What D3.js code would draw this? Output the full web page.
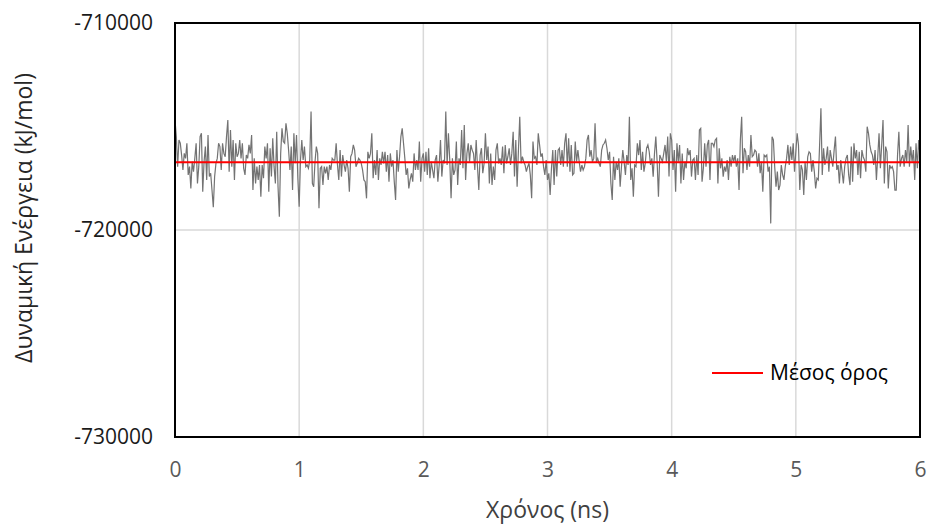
<!DOCTYPE html>
<html>
<head>
<meta charset="utf-8">
<script src="https://cdn.jsdelivr.net/npm/d3@7"></script>
<style>
body { margin: 0; background: #fff; }
text { font-family: "Open Sans", sans-serif; }
</style>
</head>
<body>
<div id="chart-area"></div>
<script>
// potential energy (kJ/mol) in 10 consecutive pieces
var energy1 = [-714690,-715490,-716940,-715650,-715810,-716380,-717100,-716300,-716540,-715810,-717340,-716940,-717990,-716700,-717180,-716540,-715810,-717750,-716940,-715490,-715330,-718150,-716700,-715970,-717580,-715410,-717420,-717260,-718070,-718900,-717420,-716780,-716540,-715810,-715970,-717100,-715810,-716300,-716460,-715490,-714690,-717180,-715170,-716940,-715650,-717580,-715810,-716460,-716300,-715650,-716540,-715810,-717020,-717340,-716380,-716540,-715890];
var energy2 = [-716300,-715410,-718070,-716540,-717750,-716940,-717580,-716860,-718390,-716860,-717500,-715970,-716540,-715810,-718150,-716050,-717420,-715570,-716940,-717750,-715250,-717910,-719360,-716300,-715090,-715730,-715810,-714850,-715330,-716140,-717100,-715970,-718070,-715330,-716780,-715410,-717500,-718870,-716620,-715650,-716620,-715970,-716940,-716860,-717020,-716620,-714280,-717750,-717910,-716700,-715970,-716300,-718950,-717020,-716940,-717830,-716940];
var energy3 = [-717260,-716940,-717580,-716860,-717100,-716540,-716620,-716620,-715810,-716860,-717580,-716140,-717420,-716380,-716860,-717180,-716620,-717020,-718150,-716460,-716300,-715890,-716140,-716940,-716780,-716540,-716620,-716780,-717100,-717580,-717670,-718470,-716220,-716540,-716300,-715330,-717500,-716620,-717340,-716140,-717580,-716540,-716860,-716220,-716780,-716220,-717180,-716380,-717670,-716300,-716940,-716620,-717670,-718550,-716140,-717180,-716460];
var energy4 = [-715490,-715090,-715810,-716540,-717340,-717020,-717990,-717580,-717260,-717670,-716300,-717100,-716620,-717100,-715730,-717670,-716540,-716300,-717180,-716220,-717340,-716050,-717500,-716700,-717100,-717500,-716620,-716380,-717670,-716860,-715650,-717420,-716620,-716780,-714280,-716860,-715330,-716620,-718470,-716540,-717340,-717100,-715730,-717830,-716540,-716860,-715170,-717020,-714930,-717580,-716300,-715810,-716700,-715890,-716140,-716300];
var energy5 = [-717100,-715650,-716940,-718070,-716380,-716050,-717260,-716780,-715330,-716620,-715970,-717750,-716300,-717830,-716940,-717580,-716140,-715810,-716780,-716540,-716860,-715970,-717260,-715890,-716780,-716460,-716050,-716860,-716300,-715250,-717420,-715650,-717910,-716140,-714530,-716780,-716460,-716700,-716860,-717180,-716940,-716780,-717340,-718470,-715730,-716540,-716460,-716860,-715330,-715890,-716460,-716300,-716940,-717340,-716620,-717580,-717260];
var energy6 = [-718310,-717020,-716140,-717830,-716140,-717420,-716140,-716050,-716860,-716140,-716940,-715810,-715330,-716940,-715570,-717180,-715890,-717340,-717260,-715730,-716700,-716140,-716700,-717180,-716860,-717100,-716940,-716540,-715650,-715410,-716460,-716140,-716700,-716540,-714850,-716700,-716540,-716780,-716940,-716140,-715890,-715810,-715650,-716050,-716620,-716220,-717750,-718550,-716460,-717580,-716700,-717100,-716540,-717910,-716940,-716140,-716700];
var energy7 = [-717340,-716380,-716860,-714530,-717580,-717020,-718390,-716860,-716940,-715810,-716380,-715650,-717100,-716220,-717180,-716780,-716050,-715890,-716220,-716860,-716540,-717420,-716300,-715490,-716700,-718390,-716380,-716540,-716700,-716300,-715890,-716700,-715490,-717420,-715330,-715650,-717100,-716140,-718150,-715810,-716700,-715890,-717750,-716300,-717580,-716700,-717020,-716050,-716380,-716140,-717420,-716620,-716540,-717580,-716380,-717340,-715170];
var energy8 = [-715090,-717670,-717020,-715810,-716940,-715890,-715650,-717580,-715810,-715810,-715970,-715650,-715570,-717750,-716050,-717020,-716540,-717420,-716940,-717180,-716620,-717580,-716460,-716940,-716380,-716700,-716380,-716940,-716540,-718070,-715650,-714530,-717260,-716050,-716220,-717100,-716380,-716940,-715410,-716460,-716380,-716140,-716220,-716940,-716300,-717260,-716700,-718150,-716380,-716460,-716380,-717180,-716940,-719680,-715490,-715650,-716940];
var energy9 = [-717910,-717180,-718070,-717830,-716860,-717340,-717580,-716940,-716540,-715890,-716860,-715970,-716620,-715810,-717180,-716220,-715330,-715890,-718070,-716860,-717100,-718310,-716700,-717580,-716460,-716220,-716300,-717180,-716620,-717180,-717990,-717500,-717580,-715890,-714120,-717340,-716050,-716860,-716540,-715970,-717180,-716140,-716540,-716940,-716140,-715490,-717100,-716860,-717750,-716620,-717180,-717750,-716940,-716540,-716380,-717340,-717830];
var energy10 = [-715970,-717670,-715810,-716540,-716140,-717340,-716220,-717500,-716140,-716460,-716620,-717180,-715010,-715330,-715890,-716220,-716380,-716860,-716140,-717580,-716460,-715330,-717020,-715890,-714690,-717750,-715970,-716220,-717990,-716860,-717020,-716940,-717180,-718070,-718070,-716380,-715250,-716940,-716540,-716380,-716940,-716140,-716700,-714930,-716940,-715970,-716700,-716140,-717580,-715810,-717020,-715650,-716380];

var meanEnergy = -716730;
var tStart = 0, tEnd = 6;   // ns, samples are evenly spaced
var xTicks = [0, 1, 2, 3, 4, 5, 6];
var yTicks = [-730000, -720000, -710000];

var energy = energy1.concat(energy2, energy3, energy4, energy5, energy6, energy7, energy8, energy9, energy10);
var step = (tEnd - tStart) / (energy.length - 1);
var data = energy.map(function(e, i){ return { t: tStart + i * step, e: e }; });

var margin = { left:175, right:12, top:23, bottom:88 };
var width = 932 - margin.left - margin.right,
    height = 525 - margin.top - margin.bottom;

var svg = d3.select("#chart-area")
    .append("svg")
        .attr("width", 932)
        .attr("height", 525);

var g = svg.append("g")
    .attr("transform", "translate(" + margin.left + "," + margin.top + ")");

var x = d3.scaleLinear()
    .domain([0, 6])
    .range([0, width]);

var y = d3.scaleLinear()
    .domain([-730000, -710000])
    .range([height, 0]);

// grid
g.selectAll(".vgrid")
    .data(xTicks.filter(function(d){ return d > 0; }))
    .enter().append("line")
        .attr("x1", function(d){ return x(d); })
        .attr("x2", function(d){ return x(d); })
        .attr("y1", 0)
        .attr("y2", height)
        .attr("stroke", "#d9d9d9")
        .attr("stroke-width", 1.5);

g.selectAll(".hgrid")
    .data(yTicks.slice(1, -1))
    .enter().append("line")
        .attr("x1", 0)
        .attr("x2", width)
        .attr("y1", function(d){ return y(d); })
        .attr("y2", function(d){ return y(d); })
        .attr("stroke", "#d9d9d9")
        .attr("stroke-width", 1.5);

// energy trace
var line = d3.line()
    .x(function(d){ return x(d.t); })
    .y(function(d){ return y(d.e); });

g.append("path")
    .datum(data)
    .attr("fill", "none")
    .attr("stroke", "#737373")
    .attr("stroke-width", 1.2)
    .attr("d", line);

// mean line
g.append("line")
    .attr("x1", x(0))
    .attr("x2", x(6))
    .attr("y1", y(meanEnergy))
    .attr("y2", y(meanEnergy))
    .attr("stroke", "#ff0000")
    .attr("stroke-width", 2);

// frame
g.append("rect")
    .attr("width", width)
    .attr("height", height)
    .attr("fill", "none")
    .attr("stroke", "#000")
    .attr("stroke-width", 2);

// axes
var xAxisCall = d3.axisBottom(x)
    .tickValues(xTicks)
    .tickSize(0)
    .tickPadding(25)
    .tickFormat(function(d){ return d; });

var yAxisCall = d3.axisLeft(y)
    .tickValues(yTicks)
    .tickSize(0)
    .tickPadding(22)
    .tickFormat(function(d){ return String(d); });

var xAxisGroup = g.append("g")
    .attr("transform", "translate(0," + height + ")")
    .call(xAxisCall);
xAxisGroup.select(".domain").remove();
xAxisGroup.selectAll("text")
    .attr("font-family", "Open Sans")
    .attr("font-size", "21px")
    .attr("fill", "#595959");

var yAxisGroup = g.append("g")
    .call(yAxisCall);
yAxisGroup.select(".domain").remove();
yAxisGroup.selectAll("text")
    .attr("font-family", "Open Sans")
    .attr("font-size", "21px")
    .attr("fill", "#1a1a1a");

// labels
svg.append("text")
    .attr("x", margin.left + width / 2)
    .attr("y", 518)
    .attr("font-size", "23px")
    .attr("fill", "#404040")
    .attr("text-anchor", "middle")
    .text("Χρόνος (ns)");

svg.append("text")
    .attr("transform", "translate(32," + (margin.top + height / 2 - 12) + ") rotate(-90)")
    .attr("font-size", "23px")
    .attr("fill", "#262626")
    .attr("text-anchor", "middle")
    .text("Δυναμική Ενέργεια (kJ/mol)");

// legend
var legend = svg.append("g")
    .attr("transform", "translate(712,373)");

legend.append("line")
    .attr("x1", 0)
    .attr("x2", 51)
    .attr("stroke", "#ff0000")
    .attr("stroke-width", 2);

legend.append("text")
    .attr("x", 58)
    .attr("y", 7)
    .attr("font-size", "21px")
    .attr("fill", "#000")
    .text("Μέσος όρος");
</script>
</body>
</html>
